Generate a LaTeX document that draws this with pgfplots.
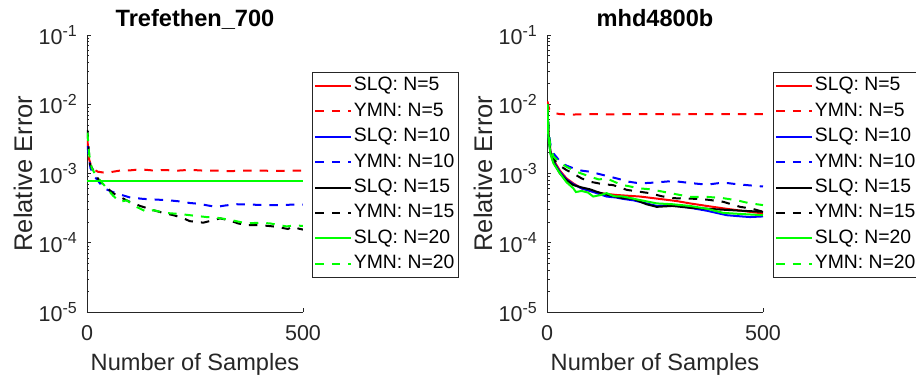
\documentclass[border=0pt]{standalone}
\usepackage{fontspec}
\setmainfont{Liberation Sans}
\usepackage{pgfplots}
\pgfplotsset{compat=1.18}
\definecolor{ax}{RGB}{38,38,38}
\tikzset{
  sl/.style={line width=2pt, solid},
  ym/.style={line width=2pt, dash pattern=on 8.5pt off 8pt},
}
\newcommand{\tp}[1]{10\raisebox{8.4pt}{\fontsize{16}{16}\selectfont #1}}
\begin{document}
\begin{tikzpicture}
\begin{axis}[at={(0pt,0pt)}, anchor=south west, title={Trefethen\_700},
    scale only axis, width=216pt, height=277pt,
    xmin=0, xmax=500, ymode=log, ymin=1e-5, ymax=1e-1,
    axis x line*=bottom, axis y line*=left,
    axis line style={-, draw=ax, line width=0.9pt},
    tick align=inside, tick style={draw=ax, line width=0.8pt},
    major tick length=4pt, minor tick length=2.5pt,
    xtick={0,500}, xticklabels={0,500},
    ytick={1e-5,1e-4,1e-3,1e-2,1e-1},
    yticklabels={\tp{-5},\tp{-4},\tp{-3},\tp{-2},\tp{-1}},
    minor ytick={2e-5,3e-5,4e-5,5e-5,6e-5,7e-5,8e-5,9e-5,2e-4,3e-4,4e-4,5e-4,6e-4,7e-4,8e-4,9e-4,2e-3,3e-3,4e-3,5e-3,6e-3,7e-3,8e-3,9e-3,2e-2,3e-2,4e-2,5e-2,6e-2,7e-2,8e-2,9e-2},
    /pgf/number format/assume math mode=true,
    ticklabel style={font=\fontsize{21.5}{21.5}\selectfont, text=ax},
    xticklabel style={anchor=base, yshift=-28.5pt},
    yticklabel style={anchor=east, inner xsep=0pt, xshift=-10pt},
    xlabel={Number of Samples}, ylabel={Relative Error},
    label style={text=ax},
    xlabel style={font=\fontsize{23.6}{23.6}\selectfont, at={(axis description cs:0.5,-0.2094)}, anchor=base},
    ylabel style={font=\fontsize{25.5}{25.5}\selectfont, at={(axis description cs:-0.2963,0.5)}, anchor=center},
    title style={font=\fontsize{23.6}{23.6}\selectfont\bfseries, at={(axis description cs:0.5,1)}, anchor=base, yshift=2pt},
    legend cell align=left,
    legend image code/.code={\draw[#1] (0pt,0pt) -- (36pt,0pt);},
    legend style={at={(axis description cs:1,1)}, anchor=north west, xshift=9pt, yshift=-37pt,
      draw=ax, line width=0.7pt, font=\fontsize{19.35}{19.35}\selectfont,
      inner xsep=2pt, inner ysep=1pt, row sep=0pt,
      nodes={inner xsep=1.5pt, inner ysep=3pt, text height=14.5pt, text depth=4.9pt}},
]
\addplot[sl, red] coordinates {(1,7.8e-4) (500,7.8e-4)};
\addlegendentry{SLQ: N=5}
\addplot[ym, red] coordinates {(1,3.05e-3) (5,1.6e-3) (11,1.2e-3) (25,1.06e-3) (45,1.02e-3) (60,1.06e-3) (83,1.12e-3) (100,1.11e-3) (123,1.15e-3) (150,1.11e-3) (180,1.12e-3) (210,1.1e-3) (238,1.13e-3) (270,1.1e-3) (300,1.1e-3) (330,1.08e-3) (360,1.1e-3) (400,1.1e-3) (440,1.09e-3) (470,1.1e-3) (500,1.1e-3)};
\addlegendentry{YMN: N=5}
\addplot[sl, blue] coordinates {(1,7.8e-4) (500,7.8e-4)};
\addlegendentry{SLQ: N=10}
\addplot[ym, blue] coordinates {(1,2.5e-3) (8,1.2e-3) (18,9e-4) (30,7.2e-4) (42,6.0e-4) (60,5.4e-4) (80,4.9e-4) (100,4.5e-4) (130,4.3e-4) (161,4.2e-4) (190,4.1e-4) (215,3.95e-4) (238,3.75e-4) (260,3.65e-4) (280,3.45e-4) (300,3.3e-4) (320,3.45e-4) (346,3.6e-4) (380,3.55e-4) (420,3.5e-4) (447,3.5e-4) (475,3.55e-4) (500,3.55e-4)};
\addlegendentry{YMN: N=10}
\addplot[sl, black] coordinates {(1,7.8e-4) (500,7.8e-4)};
\addlegendentry{SLQ: N=15}
\addplot[ym, black] coordinates {(1,4.25e-3) (4,2.2e-3) (7,1.35e-3) (15,1.1e-3) (25,8.5e-4) (35,7.2e-4) (49,6.0e-4) (60,5.2e-4) (76,4.6e-4) (95,4.0e-4) (123,3.4e-4) (150,3.0e-4) (176,2.7e-4) (200,2.5e-4) (220,2.3e-4) (238,2.05e-4) (269,1.95e-4) (290,2.1e-4) (308,2.25e-4) (330,2.1e-4) (350,1.9e-4) (370,1.8e-4) (400,1.8e-4) (439,1.7e-4) (465,1.58e-4) (476,1.7e-4) (490,1.6e-4) (500,1.55e-4)};
\addlegendentry{YMN: N=15}
\addplot[sl, green] coordinates {(1,7.8e-4) (500,7.8e-4)};
\addlegendentry{SLQ: N=20}
\addplot[ym, green] coordinates {(1,3.9e-3) (5,1.9e-3) (11,1.2e-3) (20,9.5e-4) (30,8.0e-4) (45,6.2e-4) (60,4.8e-4) (76,3.9e-4) (92,4.1e-4) (110,3.4e-4) (138,2.8e-4) (154,2.95e-4) (180,2.7e-4) (215,2.6e-4) (250,2.45e-4) (277,2.35e-4) (300,2.3e-4) (330,2.15e-4) (370,1.9e-4) (400,1.95e-4) (424,1.9e-4) (445,1.8e-4) (462,1.72e-4) (480,1.78e-4) (500,1.75e-4)};
\addlegendentry{YMN: N=20}
\end{axis}
\begin{axis}[at={(460pt,0pt)}, anchor=south west, title={mhd4800b},
    scale only axis, width=216pt, height=277pt,
    xmin=0, xmax=500, ymode=log, ymin=1e-5, ymax=1e-1,
    axis x line*=bottom, axis y line*=left,
    axis line style={-, draw=ax, line width=0.9pt},
    tick align=inside, tick style={draw=ax, line width=0.8pt},
    major tick length=4pt, minor tick length=2.5pt,
    xtick={0,500}, xticklabels={0,500},
    ytick={1e-5,1e-4,1e-3,1e-2,1e-1},
    yticklabels={\tp{-5},\tp{-4},\tp{-3},\tp{-2},\tp{-1}},
    minor ytick={2e-5,3e-5,4e-5,5e-5,6e-5,7e-5,8e-5,9e-5,2e-4,3e-4,4e-4,5e-4,6e-4,7e-4,8e-4,9e-4,2e-3,3e-3,4e-3,5e-3,6e-3,7e-3,8e-3,9e-3,2e-2,3e-2,4e-2,5e-2,6e-2,7e-2,8e-2,9e-2},
    /pgf/number format/assume math mode=true,
    ticklabel style={font=\fontsize{21.5}{21.5}\selectfont, text=ax},
    xticklabel style={anchor=base, yshift=-28.5pt},
    yticklabel style={anchor=east, inner xsep=0pt, xshift=-10pt},
    xlabel={Number of Samples}, ylabel={Relative Error},
    label style={text=ax},
    xlabel style={font=\fontsize{23.6}{23.6}\selectfont, at={(axis description cs:0.5,-0.2094)}, anchor=base},
    ylabel style={font=\fontsize{25.5}{25.5}\selectfont, at={(axis description cs:-0.2963,0.5)}, anchor=center},
    title style={font=\fontsize{23.6}{23.6}\selectfont\bfseries, at={(axis description cs:0.5,1)}, anchor=base, yshift=2pt},
    legend cell align=left,
    legend image code/.code={\draw[#1] (0pt,0pt) -- (36pt,0pt);},
    legend style={at={(axis description cs:1,1)}, anchor=north west, xshift=10pt, yshift=-37pt,
      draw=ax, line width=0.7pt, font=\fontsize{19.35}{19.35}\selectfont,
      inner xsep=2pt, inner ysep=1pt, row sep=0pt,
      nodes={inner xsep=1.5pt, inner ysep=3pt, text height=14.5pt, text depth=4.9pt}},
]
\addplot[sl, red] coordinates {(1,1.1e-2) (3,4e-3) (8,2.1e-3) (15,1.57e-3) (30,1.1e-3) (45,8.5e-4) (61,7.2e-4) (80,6.1e-4) (100,5.6e-4) (123,5.2e-4) (160,4.9e-4) (215,4.65e-4) (260,4.3e-4) (300,4.0e-4) (331,3.7e-4) (370,3.4e-4) (408,3.14e-4) (450,2.9e-4) (500,2.65e-4)};
\addlegendentry{SLQ: N=5}
\addplot[ym, red] coordinates {(1,1.09e-2) (5,8.5e-3) (15,7.5e-3) (30,7.2e-3) (60,7.1e-3) (100,7.2e-3) (150,7.15e-3) (200,7.2e-3) (250,7.2e-3) (300,7.15e-3) (350,7.2e-3) (400,7.2e-3) (450,7.2e-3) (500,7.2e-3)};
\addlegendentry{YMN: N=5}
\addplot[sl, blue] coordinates {(1,9.5e-3) (3,3.6e-3) (8,2.0e-3) (15,1.5e-3) (30,1.05e-3) (45,8.2e-4) (61,7.0e-4) (80,6.1e-4) (100,5.6e-4) (115,5.2e-4) (138,4.65e-4) (160,4.5e-4) (176,4.3e-4) (200,4.1e-4) (230,3.7e-4) (254,3.4e-4) (290,3.5e-4) (331,3.2e-4) (370,2.9e-4) (416,2.5e-4) (450,2.4e-4) (470,2.35e-4) (500,2.4e-4)};
\addlegendentry{SLQ: N=10}
\addplot[ym, blue] coordinates {(1,1.0e-2) (4,4e-3) (8,2.6e-3) (15,1.95e-3) (30,1.5e-3) (45,1.3e-3) (61,1.19e-3) (80,1.1e-3) (100,1.06e-3) (130,9.5e-4) (161,8.5e-4) (190,7.6e-4) (215,7.2e-4) (250,7.4e-4) (292,7.8e-4) (330,7.3e-4) (370,6.9e-4) (408,7.4e-4) (440,7.0e-4) (485,6.6e-4) (500,6.5e-4)};
\addlegendentry{YMN: N=10}
\addplot[sl, black] coordinates {(1,9.8e-3) (3,3.8e-3) (8,2.0e-3) (15,1.45e-3) (30,1.0e-3) (45,8.0e-4) (61,6.8e-4) (80,6.3e-4) (100,5.9e-4) (115,5.45e-4) (138,4.95e-4) (160,4.6e-4) (176,4.4e-4) (200,4.3e-4) (230,3.6e-4) (254,3.3e-4) (290,3.4e-4) (331,3.2e-4) (370,3.1e-4) (408,3.0e-4) (450,2.9e-4) (500,2.8e-4)};
\addlegendentry{SLQ: N=15}
\addplot[ym, black] coordinates {(1,9.5e-3) (4,3.5e-3) (8,2.2e-3) (15,1.6e-3) (30,1.3e-3) (45,1.12e-3) (61,1.0e-3) (80,8.5e-4) (100,7.6e-4) (130,7.0e-4) (153,6.8e-4) (185,5.8e-4) (210,5.5e-4) (238,5.2e-4) (265,4.7e-4) (292,4.4e-4) (330,4.35e-4) (370,4.2e-4) (408,3.9e-4) (447,3.3e-4) (475,3.1e-4) (500,2.8e-4)};
\addlegendentry{YMN: N=15}
\addplot[sl, green] coordinates {(1,1.0e-2) (3,3.5e-3) (8,1.9e-3) (15,1.4e-3) (30,1.0e-3) (45,7.5e-4) (61,6.1e-4) (67,5.4e-4) (80,5.6e-4) (95,5.3e-4) (107,4.65e-4) (125,4.9e-4) (138,5.2e-4) (155,4.7e-4) (176,4.65e-4) (210,4.2e-4) (254,3.7e-4) (290,3.6e-4) (331,3.4e-4) (370,3.1e-4) (408,2.7e-4) (450,2.6e-4) (500,2.5e-4)};
\addlegendentry{SLQ: N=20}
\addplot[ym, green] coordinates {(1,1.0e-2) (4,3.8e-3) (8,2.4e-3) (15,1.75e-3) (30,1.45e-3) (45,1.25e-3) (70,1.05e-3) (100,9.0e-4) (120,8.2e-4) (138,8.5e-4) (160,7.4e-4) (176,6.8e-4) (215,6.1e-4) (240,5.9e-4) (269,5.45e-4) (300,5.0e-4) (331,4.6e-4) (370,4.6e-4) (408,4.4e-4) (440,4.1e-4) (462,3.8e-4) (485,3.6e-4) (500,3.5e-4)};
\addlegendentry{YMN: N=20}
\end{axis}
\pgfresetboundingbox
\path[use as bounding box] (-87pt,-67pt) rectangle (829pt,312pt);
\end{tikzpicture}
\end{document}
